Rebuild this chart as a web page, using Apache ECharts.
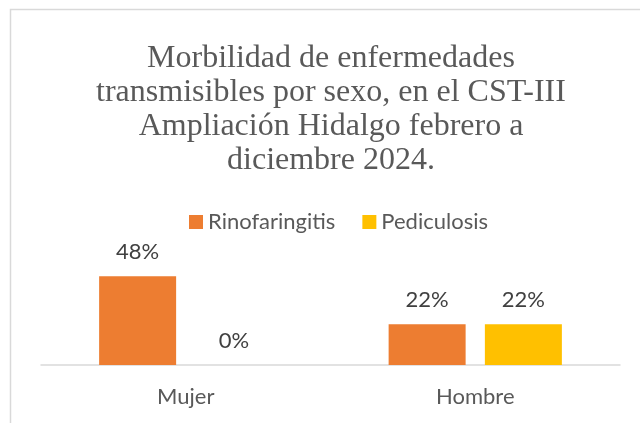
<!DOCTYPE html>
<html><head><meta charset="utf-8">
<script src="https://cdn.jsdelivr.net/npm/echarts@6/dist/echarts.min.js"></script>
<style>html,body{margin:0;padding:0;background:#fff;overflow:hidden}#c{width:640px;height:423px}</style>
</head><body><div id="c"></div>
<script>
const titleLines = ['Morbilidad de enfermedades','transmisibles por sexo, en el CST-III','Ampliación Hidalgo febrero a','diciembre 2024.'];
const categories = ['Mujer','Hombre'];
const seriesNames = ['Rinofaringitis','Pediculosis'];
const rinofaringitis = [0.48, 0.22];
const pediculosis = [0, 0.22];
const colors = ['#ED7D31','#FFC000'];

const chart = echarts.init(document.getElementById('c'), null, {renderer:'canvas'});
const sans = 'Lato';
function mkSeries(name, data, color){
  return {
    name, type:'bar', data, barWidth:77, barGap:'25%',
    itemStyle:{color},
    label:{show:true, position:'top', distance:13, fontFamily:sans, fontSize:22, color:'#404040',
      formatter:p=>Math.round(p.value*100)+'%'}
  };
}
chart.setOption({
  animation:false,
  graphic:[{type:'rect', shape:{x:10.5,y:9.5,width:642,height:430}, style:{fill:null, stroke:'#d9d9d9', lineWidth:1.5}, silent:true}],
  title:{text:titleLines.join('\n'), left:326, top:37, textAlign:'center',
    textStyle:{fontFamily:'Liberation Serif', fontSize:32, fontWeight:'normal', color:'#595959', lineHeight:34}},
  legend:{data:seriesNames, left:184, top:206, itemWidth:14, itemHeight:14, itemGap:27, icon:'rect',
    textStyle:{fontFamily:sans, fontSize:22, color:'#595959'}},
  grid:{left:41, right:20, top:254, bottom:58},
  xAxis:{type:'category', data:categories, axisTick:{show:false},
    axisLine:{lineStyle:{color:'#d9d9d9', width:1.5}},
    axisLabel:{fontFamily:sans, fontSize:22, color:'#595959', margin:21}},
  yAxis:{type:'value', min:0, max:0.6, show:false, splitLine:{show:false}},
  series:[mkSeries(seriesNames[0], rinofaringitis, colors[0]), mkSeries(seriesNames[1], pediculosis, colors[1])]
});
</script></body></html>
